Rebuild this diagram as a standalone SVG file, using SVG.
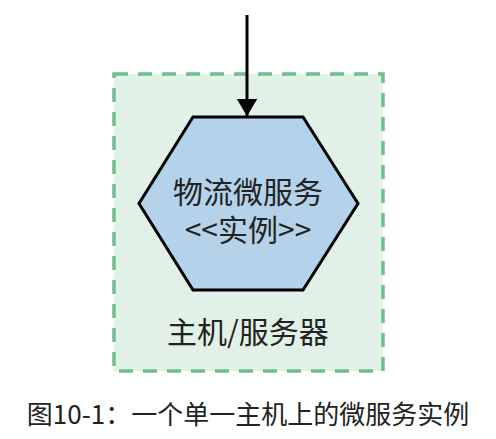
<svg xmlns="http://www.w3.org/2000/svg" width="496" height="439" viewBox="0 0 496 439">
  <style>
    .label { font-family: "Noto Sans CJK SC", "Noto Sans", sans-serif; fill: #222; text-anchor: middle; }
    .host { fill: #e2f1e8; stroke: #6dbf8c; stroke-width: 3.5; stroke-dasharray: 14 10; }
    .service { fill: #b4d3ea; stroke: #000; stroke-width: 3; stroke-linejoin: miter; }
    .flow { stroke: #000; stroke-width: 3; fill: none; }
  </style>
  <defs>
    <marker id="arrowhead" markerWidth="6" markerHeight="7" refX="5.7" refY="3.4" orient="auto" markerUnits="strokeWidth">
      <path d="M0,0 L5.8,3.4 L0,6.8 Z" fill="#000"/>
    </marker>
  </defs>
  <g id="host">
    <rect class="host" x="114" y="74" width="269" height="297"/>
    <text class="label" x="248" y="343" font-size="30">主机/服务器</text>
  </g>
  <g id="service">
    <polygon class="service" points="193,117 303,117 358,203.5 303,290 193,290 139,203.5"/>
    <text class="label" x="248" y="203" font-size="30">物流微服务</text>
    <text class="label" x="248" y="241" font-size="30">&lt;&lt;实例&gt;&gt;</text>
  </g>
  <g id="connectors">
    <line class="flow" x1="247" y1="15" x2="247" y2="116" marker-end="url(#arrowhead)"/>
  </g>
  <text class="label" x="248" y="424" font-size="26">图10-1：一个单一主机上的微服务实例</text>
</svg>
